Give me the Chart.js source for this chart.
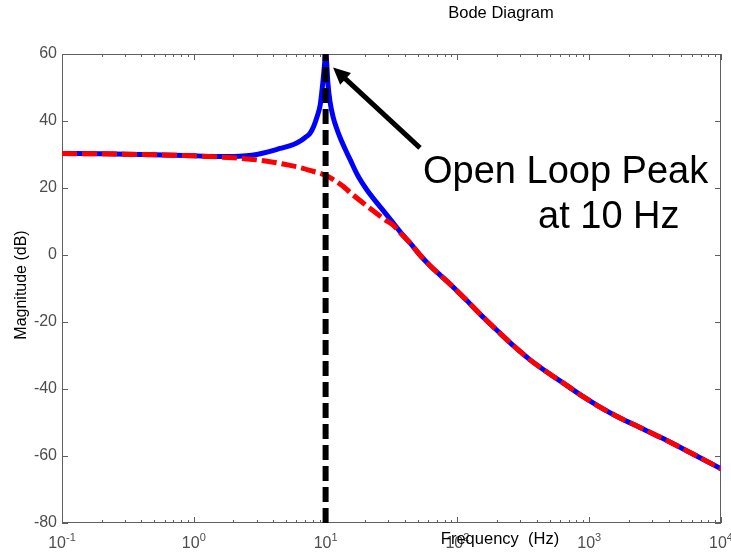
<!DOCTYPE html>
<html>
<head>
<meta charset="utf-8">
<title>Bode Diagram</title>
<script src="https://cdn.jsdelivr.net/npm/chart.js@4.4.1/dist/chart.umd.min.js"></script>
<style>
  html, body { margin: 0; padding: 0; background: #fff; }
  #bode { display: block; }
</style>
</head>
<body>
<canvas id="bode" width="731" height="554"></canvas>
<script>
const FONT = '"Liberation Sans", Arial, Helvetica, sans-serif';
const AXIS_GRAY = '#5f5f5f';
const LABEL_GRAY = '#4d4d4d';

// open loop magnitude (blue solid)
const openFreq = [0.1, 0.2, 0.5, 1, 1.5, 2, 2.5, 3, 3.6, 4.5, 5.7, 6.4, 7, 7.6, 8.1, 8.6, 9.1, 9.5, 9.8, 10,
  10.2, 10.4, 10.8, 11.4, 12.1, 12.9, 14, 15.3, 17.5, 20.6, 24, 27.3, 32.5, 37.5, 43.7, 52, 62, 74, 88, 101,
  125, 160, 210, 270, 356, 480, 679, 900, 1208, 1700, 2430, 3500, 4885, 7000, 10000];
const openMag = [30.3, 30.2, 29.9, 29.6, 29.4, 29.4, 29.6, 30.0, 30.7, 31.8, 33.0, 34.0, 35.1, 36.3, 38.3, 41.2, 44.8, 51, 56.5, 60.5,
  57, 51.5, 45.8, 41.2, 37.9, 35.0, 31.8, 28.6, 23.8, 19.4, 16.0, 13.3, 9.6, 6.5, 3.6, 0, -3.2, -6.0, -8.7, -11.0,
  -14.6, -18.9, -23.3, -27.3, -31.3, -35.0, -39.0, -42.3, -45.4, -48.6, -51.5, -54.5, -57.4, -60.6, -63.8];

// damped magnitude (red dashed)
const dampFreq = [0.1, 0.3, 1, 2, 3, 4, 5, 6.4, 8, 10, 13.5, 15.3, 20, 24.4, 28, 32.5, 37.5, 43.7, 52, 62, 74, 88, 101,
  125, 160, 210, 270, 356, 480, 679, 900, 1208, 1700, 2430, 3500, 4885, 7000, 10000];
const dampMag = [30.3, 30.1, 29.6, 29.0, 28.4, 27.7, 27.0, 26.1, 25.0, 23.8, 20.6, 18.7, 15.0, 12.4, 10.6, 8.9, 6.3, 3.6, 0, -3.2, -6.0, -8.7, -11.0,
  -14.6, -18.9, -23.3, -27.3, -31.3, -35.0, -39.0, -42.3, -45.4, -48.6, -51.5, -54.5, -57.4, -60.6, -63.8];

// marker at the resonance
const peakFreq = [10, 10];
const peakMag = [-80, 60];

const yTicks = [-80, -60, -40, -20, 0, 20, 40, 60];
const xDecades = [-1, 0, 1, 2, 3, 4];

function toPoints(xs, ys) {
  return xs.map((x, i) => ({ x, y: ys[i] }));
}

// box, inward ticks, labels and the annotation
const bodeDecor = {
  id: 'bodeDecor',
  beforeDatasetsDraw(chart) {
    const { ctx, chartArea: a, scales } = chart;
    const xs = scales.x, ys = scales.y;
    ctx.save();
    ctx.strokeStyle = AXIS_GRAY;
    ctx.lineWidth = 1;
    ctx.strokeRect(Math.round(a.left) + 0.5, Math.round(a.top) + 0.5,
      Math.round(a.right - a.left) - 1, Math.round(a.bottom - a.top) - 1);
    ctx.beginPath();
    for (let p = -1; p <= 4; p++) {
      for (let m = 1; m <= 9; m++) {
        const v = m * Math.pow(10, p);
        if (v > 10000) break;
        const px = Math.round(xs.getPixelForValue(v)) + 0.5;
        const len = m === 1 ? 6 : 3;
        ctx.moveTo(px, a.bottom);
        ctx.lineTo(px, a.bottom - len);
        ctx.moveTo(px, a.top);
        ctx.lineTo(px, a.top + len);
      }
    }
    yTicks.forEach(t => {
      const py = Math.round(ys.getPixelForValue(t)) + 0.5;
      ctx.moveTo(a.left, py);
      ctx.lineTo(a.left + 6, py);
      ctx.moveTo(a.right, py);
      ctx.lineTo(a.right - 6, py);
    });
    ctx.stroke();
    ctx.restore();
  },
  afterDraw(chart) {
    const { ctx, scales } = chart;
    const xs = scales.x, ys = scales.y;
    ctx.save();

    // x tick labels, 10 with a raised exponent
    ctx.fillStyle = LABEL_GRAY;
    ctx.textBaseline = 'alphabetic';
    ctx.textAlign = 'left';
    xDecades.forEach(p => {
      const px = xs.getPixelForValue(Math.pow(10, p));
      ctx.font = '16px ' + FONT;
      const wb = ctx.measureText('10').width;
      ctx.font = '11px ' + FONT;
      const we = ctx.measureText(String(p)).width;
      const x0 = px - (wb + we) / 2;
      ctx.font = '16px ' + FONT;
      ctx.fillText('10', x0, 548);
      ctx.font = '11px ' + FONT;
      ctx.fillText(String(p), x0 + wb, 541);
    });

    // titles
    ctx.fillStyle = '#000';
    ctx.textAlign = 'center';
    ctx.font = '16.5px ' + FONT;
    ctx.fillText('Bode Diagram', 501, 18);
    ctx.fillText('Frequency  (Hz)', 500, 544);
    ctx.save();
    ctx.translate(22, 285);
    ctx.rotate(-Math.PI / 2);
    ctx.textBaseline = 'middle';
    ctx.font = '16px ' + FONT;
    ctx.fillText('Magnitude (dB)', 0, 0);
    ctx.restore();

    // arrow pointing at the peak
    const tip = { x: xs.getPixelForValue(11.4), y: ys.getPixelForValue(56) };
    const tail = { x: xs.getPixelForValue(52), y: ys.getPixelForValue(32) };
    const ang = Math.atan2(tip.y - tail.y, tip.x - tail.x);
    const headLen = 17, headHalf = 8;
    const bx = tip.x - headLen * Math.cos(ang), by = tip.y - headLen * Math.sin(ang);
    ctx.strokeStyle = '#000';
    ctx.lineWidth = 5;
    ctx.beginPath();
    ctx.moveTo(tail.x, tail.y);
    ctx.lineTo(bx + 2 * Math.cos(ang), by + 2 * Math.sin(ang));
    ctx.stroke();
    ctx.fillStyle = '#000';
    ctx.beginPath();
    ctx.moveTo(tip.x, tip.y);
    ctx.lineTo(bx + headHalf * Math.sin(ang), by - headHalf * Math.cos(ang));
    ctx.lineTo(bx - headHalf * Math.sin(ang), by + headHalf * Math.cos(ang));
    ctx.closePath();
    ctx.fill();

    ctx.textAlign = 'left';
    ctx.textBaseline = 'alphabetic';
    ctx.font = '38px ' + FONT;
    ctx.fillText('Open Loop Peak', 423, 183);
    ctx.fillText('at 10 Hz', 538, 228);
    ctx.restore();
  }
};

new Chart(document.getElementById('bode'), {
  type: 'line',
  data: {
    datasets: [
      {
        data: toPoints(peakFreq, peakMag),
        borderColor: '#000',
        borderWidth: 6,
        borderDash: [15, 6],
        tension: 0,
        pointRadius: 0,
        clip: 0
      },
      {
        data: toPoints(dampFreq, dampMag),
        borderColor: '#ff0000',
        borderWidth: 5,
        borderDash: [15, 5],
        borderJoinStyle: 'round',
        cubicInterpolationMode: 'monotone',
        pointRadius: 0,
        clip: 0
      },
      {
        data: toPoints(openFreq, openMag),
        borderColor: '#0000ff',
        borderWidth: 5,
        borderJoinStyle: 'round',
        cubicInterpolationMode: 'monotone',
        pointRadius: 0,
        clip: 0
      }
    ]
  },
  options: {
    responsive: false,
    devicePixelRatio: 1,
    animation: false,
    layout: { padding: { top: 54, right: 10, left: 0, bottom: 0 } },
    plugins: { legend: { display: false }, tooltip: { enabled: false }, title: { display: false } },
    scales: {
      x: {
        type: 'logarithmic',
        min: 0.1,
        max: 10000,
        grid: { display: false, drawTicks: false },
        border: { display: false },
        ticks: { display: false },
        afterFit(s) { s.height = 31; }
      },
      y: {
        min: -80,
        max: 60,
        grid: { display: false, drawTicks: false },
        border: { display: false },
        ticks: {
          stepSize: 20,
          padding: 5,
          color: LABEL_GRAY,
          font: { size: 16, family: FONT }
        },
        afterFit(s) { s.width = 62; }
      }
    }
  },
  plugins: [bodeDecor]
});
</script>
</body>
</html>
